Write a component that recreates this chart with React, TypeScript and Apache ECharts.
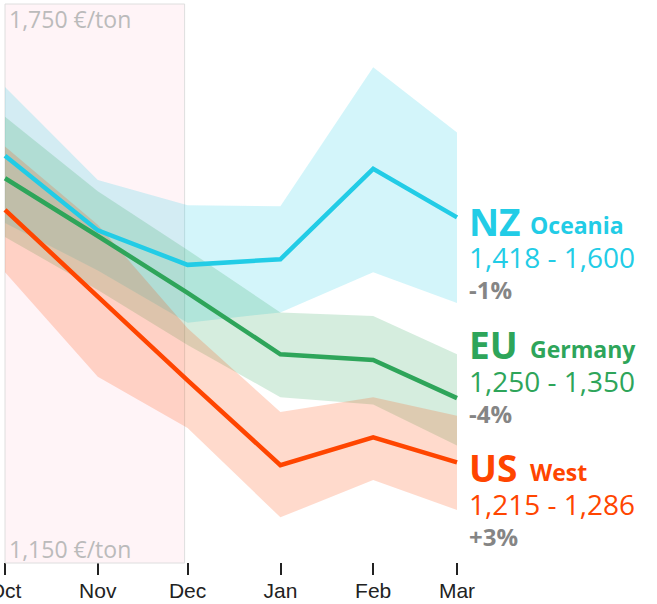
import React, { useEffect, useRef } from 'react';
import * as echarts from 'echarts';

// ---- data ----
const dates = ['2022-10-01', '2022-11-01', '2022-12-01', '2023-01-01', '2023-02-01', '2023-03-01'];
const monthLabels = ['Oct', 'Nov', 'Dec', 'Jan', 'Feb', 'Mar'];

const nzMid = [1587, 1507, 1470, 1476, 1573, 1521];
const nzLow = [1515, 1464, 1408, 1419, 1462, 1429];
const nzHigh = [1661, 1561, 1534, 1533, 1682, 1612];

const euMid = [1563, 1501, 1440, 1374, 1368, 1327];
const euLow = [1500, 1443, 1384, 1328, 1320, 1276];
const euHigh = [1629, 1549, 1486, 1419, 1415, 1374];

const usMid = [1529, 1436, 1346, 1255, 1285, 1258];
const usLow = [1462, 1350, 1295, 1199, 1239, 1207];
const usHigh = [1597, 1513, 1402, 1312, 1328, 1308];

const yMin = 1150;
const yMax = 1750;
const yStep = 50;
const yTickLabels = ['1,150 €/ton', '1,750 €/ton'];

const highlightFrom = '2022-10-01';
const highlightTo = '2022-11-30';

const codes = ['NZ', 'EU', 'US'];
const regions = ['Oceania', 'Germany', 'West'];
const ranges = ['1,418 - 1,600', '1,250 - 1,350', '1,215 - 1,286'];
const changes = ['-1%', '-4%', '+3%'];

// ---- styles ----
const NZ_COLOR = '#22cce6';
const EU_COLOR = '#2ea55a';
const US_COLOR = '#ff4500';
const BAND = {
  nz: 'rgba(34,204,230,0.2)',
  eu: 'rgba(46,165,90,0.2)',
  us: 'rgba(255,69,0,0.2)',
};

const toTime = (d: string) => +new Date(d + 'T00:00:00');

export default function App() {
  const ref = useRef<HTMLDivElement>(null);

  useEffect(() => {
    if (!ref.current) return;
    const chart = echarts.init(ref.current, null, { renderer: 'svg' });
    const t = dates.map(toTime);

    const band = (key: string, low: number[], high: number[], color: string, withMark = false) => {
      const lowSeries: any = {
        type: 'line',
        name: key + '-low',
        stack: key,
        data: t.map((x, i) => [x, low[i]]),
        symbol: 'none',
        lineStyle: { opacity: 0, width: 0 },
        silent: true,
        z: 1,
      };
      if (withMark) {
        lowSeries.markArea = {
          silent: true,
          itemStyle: { color: '#fff4f7', borderColor: '#dedede', borderWidth: 1 },
          data: [[{ xAxis: toTime(highlightFrom) }, { xAxis: toTime(highlightTo) }]],
        };
      }
      const bandSeries = {
        type: 'line',
        name: key + '-band',
        stack: key,
        data: t.map((x, i) => [x, high[i] - low[i]]),
        symbol: 'none',
        lineStyle: { opacity: 0, width: 0 },
        areaStyle: { color, opacity: 1 },
        silent: true,
        z: 1,
      };
      return [lowSeries, bandSeries];
    };

    const line = (key: string, mid: number[], color: string) => ({
      type: 'line',
      name: key,
      data: t.map((x, i) => [x, mid[i]]),
      symbol: 'none',
      color,
      lineStyle: { color, width: 4.5, join: 'miter' },
      silent: true,
      z: 3,
    });

    const colors = [NZ_COLOR, EU_COLOR, US_COLOR];
    const blockY = [221, 344.5, 467.5];
    const graphics: any[] = [];
    codes.forEach((c, i) => {
      const y = blockY[i];
      graphics.push({
        type: 'text', x: 469, y,
        style: { text: c, fill: colors[i], fontSize: 37, lineHeight: 28, fontWeight: 'bold', fontFamily: 'Open Sans', verticalAlign: 'middle', align: 'left' },
      });
      graphics.push({
        type: 'text', x: 530, y: y + 4,
        style: { text: regions[i], fill: colors[i], fontSize: 23, lineHeight: 18, fontWeight: 'bold', fontFamily: 'Open Sans', verticalAlign: 'middle', align: 'left' },
      });
      graphics.push({
        type: 'text', x: 469, y: y + 36,
        style: { text: ranges[i], fill: colors[i], fontSize: 28, lineHeight: 22, fontFamily: 'Open Sans', verticalAlign: 'middle', align: 'left' },
      });
      graphics.push({
        type: 'text', x: 469, y: y + 68.5,
        style: { text: changes[i], fill: '#858585', fontSize: 24, lineHeight: 20, fontWeight: 'bold', fontFamily: 'Open Sans', verticalAlign: 'middle', align: 'left' },
      });
    });

    const option: any = {
      animation: false,
      grid: { left: 5, right: 200, top: 4, bottom: 41, containLabel: false, outerBoundsMode: 'none' },
      xAxis: {
        type: 'time',
        min: t[0],
        max: t[t.length - 1],
        splitNumber: 5,
        minInterval: 28 * 86400000,
        axisLine: { show: false },
        splitLine: { show: false },
        axisTick: { show: true, length: 12, lineStyle: { color: '#222', width: 2 } },
        axisLabel: {
          show: true,
          showMinLabel: true,
          showMaxLabel: true,
          hideOverlap: false,
          margin: 17,
          color: '#222',
          fontSize: 21,
          fontFamily: 'Liberation Sans, Arial, sans-serif',
          formatter: (v: number) => {
            const idx = t.indexOf(v);
            return idx >= 0 ? monthLabels[idx] : '';
          },
        },
      },
      yAxis: {
        type: 'value',
        z: 10,
        min: yMin,
        max: yMax,
        interval: yStep,
        axisLine: { show: false },
        axisTick: { show: false },
        splitLine: { show: false },
        axisLabel: {
          inside: true,
          margin: 4,
          align: 'left',
          showMinLabel: true,
          showMaxLabel: true,
          hideOverlap: false,
          formatter: (v: number) => {
            if (v === yMax) return '{t|' + yTickLabels[1] + '}';
            if (v === yMin) return '{b|' + yTickLabels[0] + '}';
            return '';
          },
          rich: {
            t: { color: '#bbbbbb', fontSize: 23, fontFamily: 'Open Sans', padding: [30, 0, 0, 0] },
            b: { color: '#bbbbbb', fontSize: 23, fontFamily: 'Open Sans', padding: [0, 0, 28, 0] },
          },
        },
      },
      series: [
        ...band('nz', nzLow, nzHigh, BAND.nz, true),
        ...band('eu', euLow, euHigh, BAND.eu),
        ...band('us', usLow, usHigh, BAND.us),
        line('nz', nzMid, NZ_COLOR),
        line('eu', euMid, EU_COLOR),
        line('us', usMid, US_COLOR),
      ],
      graphic: graphics,
    };

    chart.setOption(option);
    return () => chart.dispose();
  }, []);

  return (
    <div
      ref={ref}
      style={{ position: 'fixed', left: 0, top: 0, width: 657, height: 604, background: '#fff' }}
    />
  );
}
